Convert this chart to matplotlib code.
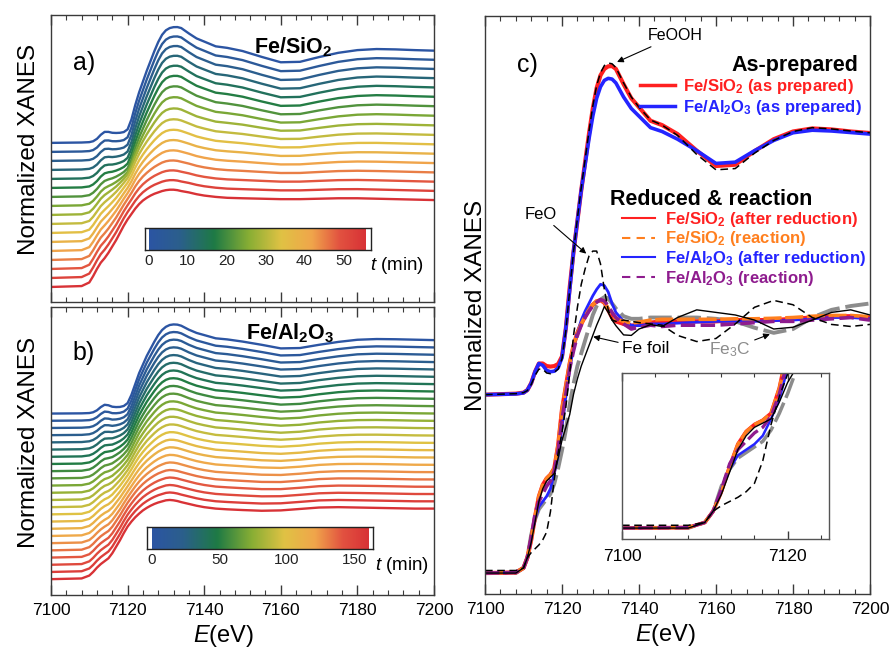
import numpy as np
import matplotlib
matplotlib.use("Agg")
import matplotlib.pyplot as plt
from matplotlib.colors import LinearSegmentedColormap
from matplotlib.ticker import MultipleLocator
from matplotlib.lines import Line2D

plt.rcParams['font.family'] = ['Liberation Sans', 'DejaVu Sans']
plt.rcParams['mathtext.fontset'] = 'custom'
plt.rcParams['mathtext.rm'] = 'Liberation Sans'
plt.rcParams['mathtext.it'] = 'Liberation Sans:italic'
plt.rcParams['mathtext.bf'] = 'Liberation Sans:bold'

# ---------------- data (normalized XANES) ----------------
energy = [7100, 7108, 7110, 7111, 7112, 7113, 7114, 7115, 7116, 7117, 7118, 7119,
          7120, 7121, 7122, 7123, 7124, 7125, 7126, 7127, 7128, 7129, 7130, 7131,
          7132, 7133, 7134, 7136, 7138, 7140, 7143, 7146, 7150, 7155, 7160, 7165,
          7170, 7175, 7180, 7185, 7190, 7195, 7200]

sio2_asprep = [0, 0.004, 0.008, 0.018, 0.045, 0.09, 0.122, 0.122, 0.112, 0.11, 0.112, 0.12,
               0.15, 0.26, 0.42, 0.56, 0.68, 0.80, 0.91, 1.02, 1.12, 1.20, 1.25, 1.275,
               1.285, 1.286, 1.275, 1.215, 1.16, 1.125, 1.072, 1.055, 1.02, 0.955, 0.895, 0.90,
               0.953, 1.0, 1.03, 1.042, 1.038, 1.03, 1.024]
al2o3_asprep = [0, 0.003, 0.007, 0.018, 0.045, 0.09, 0.122, 0.115, 0.095, 0.09, 0.092, 0.105,
                0.145, 0.26, 0.41, 0.56, 0.68, 0.80, 0.90, 1.0, 1.09, 1.16, 1.205, 1.23,
                1.238, 1.235, 1.22, 1.165, 1.12, 1.09, 1.045, 1.03, 1.0, 0.955, 0.905, 0.91,
                0.955, 0.995, 1.025, 1.035, 1.032, 1.026, 1.02]
feooh_ref = [0, 0.004, 0.008, 0.016, 0.04, 0.075, 0.1, 0.1, 0.085, 0.082, 0.088, 0.1,
             0.14, 0.25, 0.41, 0.56, 0.69, 0.81, 0.92, 1.03, 1.13, 1.21, 1.26, 1.288,
             1.298, 1.295, 1.28, 1.22, 1.165, 1.125, 1.075, 1.055, 1.015, 0.94, 0.88, 0.885,
             0.945, 0.995, 1.03, 1.045, 1.04, 1.032, 1.025]
sio2_reduced = [0, 0.002, 0.02, 0.06, 0.13, 0.22, 0.30, 0.345, 0.37, 0.385, 0.41, 0.50,
                0.64, 0.73, 0.82, 0.89, 0.94, 0.975, 1.004, 1.03, 1.05, 1.063, 1.068, 1.058,
                1.03, 1.0, 0.985, 0.975, 0.968, 0.972, 0.98, 0.985, 0.985, 0.985, 0.985, 0.99,
                0.99, 0.99, 0.995, 1.0, 1.005, 1.005, 1.0]
sio2_reaction = [0, 0.002, 0.02, 0.06, 0.13, 0.22, 0.30, 0.345, 0.37, 0.385, 0.41, 0.50,
                 0.64, 0.73, 0.82, 0.89, 0.94, 0.975, 1.004, 1.03, 1.05, 1.065, 1.07, 1.06,
                 1.035, 1.01, 0.995, 0.985, 0.978, 0.982, 0.99, 0.993, 0.993, 0.993, 0.993, 0.995,
                 0.995, 0.997, 1.0, 1.005, 1.008, 1.008, 1.003]
al2o3_reduced = [0, 0.002, 0.02, 0.06, 0.14, 0.21, 0.26, 0.28, 0.30, 0.33, 0.39, 0.46,
                 0.57, 0.69, 0.80, 0.88, 0.94, 0.99, 1.025, 1.055, 1.085, 1.11, 1.13, 1.125,
                 1.1, 1.055, 1.02, 0.985, 0.97, 0.968, 0.975, 0.975, 0.978, 0.982, 0.985, 0.985,
                 0.985, 0.988, 0.99, 0.995, 1.0, 1.0, 0.995]
al2o3_reaction = [0, 0.002, 0.02, 0.06, 0.14, 0.23, 0.28, 0.31, 0.34, 0.36, 0.40, 0.48,
                  0.60, 0.70, 0.80, 0.87, 0.93, 0.97, 1.0, 1.025, 1.045, 1.06, 1.07, 1.065,
                  1.045, 1.02, 1.0, 0.975, 0.955, 0.962, 0.97, 0.965, 0.97, 0.97, 0.97, 0.975,
                  0.98, 0.985, 0.985, 0.99, 0.995, 1.0, 0.99]
feo_ref = [0.01, 0.01, 0.02, 0.06, 0.08, 0.095, 0.11, 0.13, 0.16, 0.24, 0.37, 0.47,
           0.55, 0.65, 0.78, 0.93, 1.04, 1.13, 1.19, 1.24, 1.26, 1.26, 1.21, 1.11,
           1.03, 0.99, 0.985, 0.99, 0.985, 0.98, 0.975, 0.97, 0.93, 0.906, 0.918, 0.975,
           1.04, 1.067, 1.05, 1.0, 0.973, 0.965, 0.973]
fe_foil = [0, 0.0, 0.02, 0.06, 0.12, 0.20, 0.28, 0.33, 0.36, 0.375, 0.39, 0.45,
           0.52, 0.57, 0.62, 0.70, 0.76, 0.81, 0.85, 0.89, 0.93, 0.97, 1.005, 1.043,
           1.02, 0.99, 0.968, 0.932, 0.93, 0.955, 0.972, 0.965, 1.0, 1.03, 1.02, 1.01,
           0.99, 0.955, 0.962, 0.99, 1.02, 1.03, 1.01]
fe3c_ref = [0, 0.0, 0.02, 0.06, 0.15, 0.21, 0.25, 0.27, 0.29, 0.31, 0.35, 0.41,
            0.48, 0.56, 0.66, 0.74, 0.81, 0.86, 0.91, 0.96, 1.01, 1.045, 1.07, 1.08,
            1.075, 1.055, 1.035, 1.005, 0.995, 0.995, 1.0, 1.0, 1.0, 1.0, 0.995, 0.985,
            0.96, 0.94, 0.955, 1.0, 1.03, 1.045, 1.055]

# last spectra of the time-resolved series (panels a and b)
sio2_final_tr = [0, 0.01, 0.05, 0.12, 0.2, 0.27, 0.32, 0.38, 0.45, 0.52, 0.6, 0.68,
                 0.75, 0.81, 0.87, 0.92, 0.96, 0.99, 1.015, 1.035, 1.05, 1.065, 1.075, 1.08,
                 1.08, 1.075, 1.065, 1.05, 1.03, 1.015, 1.0, 0.99, 0.985, 0.98, 0.975, 0.975,
                 0.98, 0.985, 0.985, 0.98, 0.975, 0.97, 0.965]
al2o3_final_tr = [0, 0.01, 0.05, 0.1, 0.16, 0.21, 0.25, 0.29, 0.36, 0.45, 0.54, 0.64,
                  0.73, 0.8, 0.86, 0.91, 0.955, 0.99, 1.02, 1.045, 1.065, 1.08, 1.095, 1.1,
                  1.095, 1.085, 1.07, 1.045, 1.02, 1.0, 0.98, 0.97, 0.96, 0.95, 0.955, 0.975,
                  0.995, 1.0, 0.995, 0.99, 0.985, 0.98, 0.98]

# time-resolved series: time of each spectrum and reduced fraction read per curve
time_a = [0, 3.5, 7.0, 10.4, 13.9, 17.4, 20.9, 24.4, 27.8, 31.3, 34.8, 38.3, 41.8, 45.2, 48.7, 52.2, 55.7]
frac_a = [0, 0.02, 0.05, 0.09, 0.14, 0.2, 0.28, 0.38, 0.5, 0.6, 0.68, 0.75, 0.82, 0.88, 0.93, 0.97, 1.0]
time_b = [0, 7, 14, 21, 28, 35, 42, 49, 56, 63, 70, 77, 84, 90, 97, 104, 111, 118, 125, 132, 139, 146, 153, 160]
frac_b = [0, 0.04, 0.08, 0.13, 0.18, 0.23, 0.28, 0.33, 0.38, 0.43, 0.48, 0.53, 0.58, 0.63, 0.68,
          0.72, 0.76, 0.8, 0.84, 0.88, 0.91, 0.94, 0.97, 1.0]
cbar_ticks_a = [0, 10, 20, 30, 40, 50]
cbar_ticks_b = [0, 50, 100, 150]
x_ticks = [7100, 7120, 7140, 7160, 7180, 7200]
inset_ticks = [7100, 7120]

# ---------------- styling ----------------
E = np.array(energy)
cmap = LinearSegmentedColormap.from_list('xanes', [
    (0.0, '#2c55a3'), (0.14, '#2b5f8c'), (0.30, '#1e7a45'), (0.46, '#88ae34'),
    (0.61, '#e0c244'), (0.75, '#f0a64b'), (0.88, '#e25240'), (1.0, '#d83236')])

RED, BLUE, ORANGE, PURPLE, GRAY = '#ff2020', '#2424ff', '#ff7f1e', '#8e1c8e', '#8c8c8c'
SPINE = '#3a3a3a'

fig = plt.figure(figsize=(8.9, 6.49), dpi=100)
W, H = 890.0, 649.0
def rect(l, t, r, b):
    return [l / W, 1 - b / H, (r - l) / W, (b - t) / H]

axa = fig.add_axes(rect(51, 15, 434, 302))
axb = fig.add_axes(rect(51, 307, 434, 595))
axc = fig.add_axes(rect(485, 16, 870, 594))

def style(ax, labels):
    ax.set_xlim(7100, 7200)
    ax.set_xticks(x_ticks)
    ax.xaxis.set_minor_locator(MultipleLocator(4))
    ax.tick_params(axis='x', which='both', direction='in', top=True, bottom=True,
                   labelbottom=labels, labelsize=12.5, color=SPINE, pad=6)
    ax.tick_params(axis='x', which='major', length=7, width=1)
    ax.tick_params(axis='x', which='minor', length=3.5, width=0.8)
    ax.set_yticks([])
    for s in ax.spines.values():
        s.set_color(SPINE)
        s.set_linewidth(1.0)

def stack(ax, ox, red, fracs, times, tmax, step):
    ox = np.array(ox); red = np.array(red)
    n = len(fracs)
    for i, (f, t) in enumerate(zip(fracs, times)):
        mu = (1 - f) * ox + f * red
        ax.plot(E, mu + step * (n - 1 - i), color=cmap(t / tmax), lw=1.7)

def colorbar(r, box, tmax, ticks):
    cax = fig.add_axes(rect(*r))
    grad = np.linspace(0, tmax, 256)[None, :]
    cax.imshow(grad, extent=(0, tmax, 0, 1), aspect='auto', cmap=cmap, vmin=0, vmax=tmax)
    cax.set_xlim(*box)
    cax.set_ylim(0, 1)
    cax.set_yticks([])
    cax.set_xticks(ticks)
    cax.tick_params(axis='x', length=0, labelsize=11, pad=3, labelcolor='#222222')
    for s in cax.spines.values():
        s.set_color('#222222'); s.set_linewidth(1.0)
    return cax

# ---- panel a ----
stack(axa, sio2_asprep, sio2_final_tr, frac_a, time_a, 55.7, 0.1)
axa.set_ylim(-0.167, 3.02)
style(axa, False)
axa.text(0.057, 0.833, 'a)', transform=axa.transAxes, fontsize=18, va='center', ha='left')
axa.text(0.632, 0.889, 'Fe/SiO$_\\mathbf{2}$', transform=axa.transAxes, fontsize=15.5,
         fontweight='bold', va='center', ha='center')
axa.set_ylabel('Normalized XANES', fontsize=17.5)
axa.yaxis.set_label_coords(-0.03, 0.53)
colorbar((145, 228, 371, 250), (-1.0, 57.1), 55.7, cbar_ticks_a)
fig.text(370 / W, 1 - 266 / H, '$t$ (min)', fontsize=13.5, va='center', ha='left')

# ---- panel b ----
stack(axb, al2o3_asprep, al2o3_final_tr, frac_b, time_b, 160, 0.1)
axb.set_ylim(-0.22, 3.78)
style(axb, True)
axb.text(0.057, 0.84, 'b)', transform=axb.transAxes, fontsize=18, va='center', ha='left')
axb.text(0.624, 0.91, 'Fe/Al$_\\mathbf{2}$O$_\\mathbf{3}$', transform=axb.transAxes, fontsize=15.5,
         fontweight='bold', va='center', ha='center')
axb.set_ylabel('Normalized XANES', fontsize=17.5)
axb.yaxis.set_label_coords(-0.03, 0.53)
axb.set_xlabel('$E$(eV)', fontsize=17)
axb.xaxis.set_label_coords(0.45, -0.098)
colorbar((147, 527, 373, 549), (-3.7, 163.7), 160, cbar_ticks_b)
fig.text(375 / W, 1 - 566 / H, '$t$ (min)', fontsize=13.5, va='center', ha='left')

# ---- panel c ----
off = 0.698
axc.plot(E, np.array(sio2_asprep) + off, color=RED, lw=3.0)
axc.plot(E, np.array(al2o3_asprep) + off, color=BLUE, lw=2.6)
axc.plot(E, np.array(feooh_ref) + off, color='black', lw=1.1, dashes=(5, 3))

def bottom_group(ax, scale=1.0):
    ax.plot(E, fe3c_ref, color=GRAY, lw=2.8 * scale, dashes=(6, 1.5))
    ax.plot(E, sio2_reduced, color=RED, lw=3.0 * scale)
    ax.plot(E, al2o3_reduced, color=BLUE, lw=2.0 * scale)
    ax.plot(E, sio2_reaction, color=ORANGE, lw=2.6 * scale, dashes=(5, 1))
    ax.plot(E, al2o3_reaction, color=PURPLE, lw=2.6 * scale, dashes=(4, 1.5))
    ax.plot(E, fe_foil, color='black', lw=1.0)
    ax.plot(E, feo_ref, color='black', lw=1.1, dashes=(5, 3))

bottom_group(axc)
axc.set_ylim(-0.082, 2.18)
style(axc, True)
axc.set_ylabel('Normalized XANES', fontsize=17.5)
axc.yaxis.set_label_coords(0.004, 0.5)
axc.set_xlabel('$E$(eV)', fontsize=17)
axc.xaxis.set_label_coords(0.47, -0.049)
axc.text(0.083, 0.915, 'c)', transform=axc.transAxes, fontsize=18, va='center', ha='left')

arrow = dict(arrowstyle='-|>', color='black', lw=0.8, mutation_scale=9, shrinkA=1, shrinkB=0)
axc.annotate('FeOOH', xy=(7134.3, 2.0), xytext=(7149.4, 2.102), fontsize=11.5,
             ha='center', va='center', arrowprops=arrow)
axc.annotate('FeO', xy=(7126.3, 1.25), xytext=(7114.5, 1.404), fontsize=12,
             ha='center', va='center', arrowprops=arrow)
axc.annotate('Fe foil', xy=(7128.1, 0.925), xytext=(7141.8, 0.878), fontsize=12.5,
             ha='center', va='center', arrowprops=arrow)
axc.annotate('Fe$_3$C', xy=(7174, 0.935), xytext=(7163.6, 0.875), fontsize=12.5, color=GRAY,
             ha='center', va='center', arrowprops=arrow)

# legends
axc.text(0.971, 0.915, 'As-prepared', transform=axc.transAxes, fontsize=15.5,
         fontweight='bold', ha='right', va='center')
h1 = [Line2D([], [], color=RED, lw=2.5), Line2D([], [], color=BLUE, lw=2.5)]
l1 = ['Fe/SiO$_\\mathbf{2}$ (as prepared)', 'Fe/Al$_\\mathbf{2}$O$_\\mathbf{3}$ (as prepared)']
leg1 = axc.legend(h1, l1, loc='upper right', bbox_to_anchor=(0.979, 0.895), frameon=False,
                  prop={'weight': 'bold', 'size': 12}, labelcolor='linecolor',
                  handlelength=2.1, handletextpad=0.5, labelspacing=0.12,
                  borderpad=0, borderaxespad=0)
axc.add_artist(leg1)
axc.text(0.325, 0.682, 'Reduced & reaction', transform=axc.transAxes, fontsize=15.5,
         fontweight='bold', ha='left', va='center')
h2 = [Line2D([], [], color=RED, lw=1.5), Line2D([], [], color=ORANGE, lw=1.5, dashes=(4, 3)),
      Line2D([], [], color=BLUE, lw=1.5), Line2D([], [], color=PURPLE, lw=1.5, dashes=(4, 3))]
l2 = ['Fe/SiO$_\\mathbf{2}$ (after reduction)', 'Fe/SiO$_\\mathbf{2}$ (reaction)',
      'Fe/Al$_\\mathbf{2}$O$_\\mathbf{3}$ (after reduction)', 'Fe/Al$_\\mathbf{2}$O$_\\mathbf{3}$ (reaction)']
leg2 = axc.legend(h2, l2, loc='upper left', bbox_to_anchor=(0.356, 0.665), frameon=False,
                  prop={'weight': 'bold', 'size': 12}, labelcolor='linecolor',
                  handlelength=2.0, handletextpad=0.6, labelspacing=0.05,
                  borderpad=0, borderaxespad=0)

# inset
axi = fig.add_axes(rect(622, 373, 829, 539))
bottom_group(axi, 0.9)
axi.set_xlim(7100, 7125)
axi.set_ylim(-0.039, 0.554)
axi.set_xticks(inset_ticks)
axi.xaxis.set_minor_locator(MultipleLocator(4))
axi.tick_params(axis='x', which='both', direction='in', top=True, bottom=True,
                labelsize=12.5, color=SPINE, pad=7)
axi.tick_params(axis='x', which='major', length=6, width=1)
axi.tick_params(axis='x', which='minor', length=3, width=0.8)
axi.set_yticks([])
for s in axi.spines.values():
    s.set_color('#555555'); s.set_linewidth(1.0)

fig.savefig('out.png', dpi=100)
